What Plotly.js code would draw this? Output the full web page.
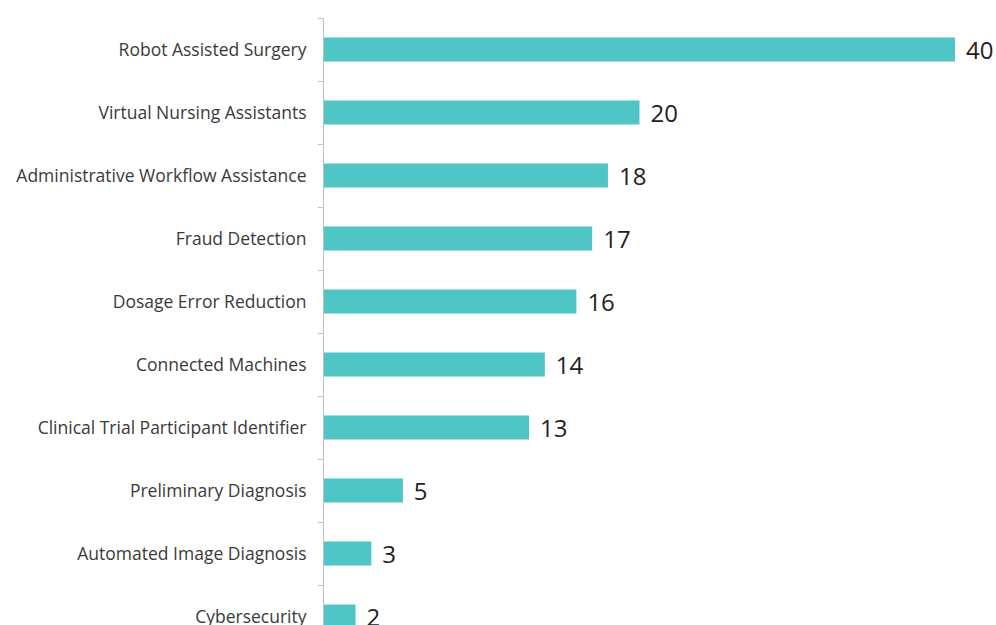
<!DOCTYPE html>
<html>
<head>
<meta charset="utf-8">
<script src="https://cdn.plot.ly/plotly-3.0.1.min.js"></script>
<style>
html,body{margin:0;padding:0;overflow:hidden;background:#fff;}
#chart{width:996px;height:660px;}
</style>
</head>
<body>
<div id="chart"></div>
<script>
var categories = [
  "Robot Assisted Surgery",
  "Virtual Nursing Assistants",
  "Administrative Workflow Assistance",
  "Fraud Detection",
  "Dosage Error Reduction",
  "Connected Machines",
  "Clinical Trial Participant Identifier",
  "Preliminary Diagnosis",
  "Automated Image Diagnosis",
  "Cybersecurity"
];
var values = [40, 20, 18, 17, 16, 14, 13, 5, 3, 2];

var trace = {
  type: "bar",
  orientation: "h",
  y: categories,
  x: values,
  marker: {color: "#4fc5c6"},
  texttemplate: "\u2009\u2009%{x}",
  textposition: "outside",
  textangle: 0,
  constraintext: "none",
  cliponaxis: false,
  outsidetextfont: {family: "Open Sans, sans-serif", size: 24, color: "#222"},
  hoverinfo: "none"
};

var layout = {
  width: 996,
  height: 660,
  margin: {l: 324, r: 41, t: 18, b: 12},
  paper_bgcolor: "#fff",
  plot_bgcolor: "#fff",
  bargap: 0.62,
  showlegend: false,
  xaxis: {
    range: [0, 40],
    showgrid: false,
    zeroline: false,
    showticklabels: false,
    showline: false,
    ticks: ""
  },
  yaxis: {
    type: "category",
    autorange: "reversed",
    showline: true,
    linecolor: "#bfbfbf",
    linewidth: 1,
    ticks: "outside",
    tickson: "boundaries",
    ticklen: 5,
    tickcolor: "#bfbfbf",
    ticklabelstandoff: 13,
    showgrid: false,
    zeroline: false,
    tickfont: {family: "Open Sans, sans-serif", size: 17.5, color: "#3a3a3a"}
  }
};

Plotly.newPlot("chart", [trace], layout, {displayModeBar: false, staticPlot: true});
</script>
</body>
</html>
